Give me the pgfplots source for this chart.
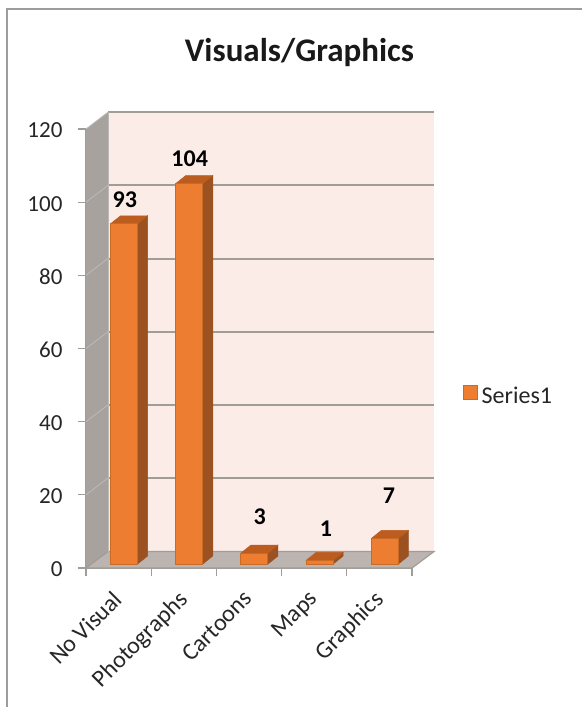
\documentclass[border=0pt]{standalone}
\usepackage{pgfplots}
\pgfplotsset{compat=1.18}
\usepackage{fontspec}
\setmainfont{Carlito}
\definecolor{frameline}{HTML}{9C9C9C}
\definecolor{gridline}{HTML}{A09C98}
\definecolor{sidewall}{HTML}{A8A29E}
\definecolor{floorfill}{HTML}{BCB4B1}
\definecolor{backwall}{HTML}{FBECE8}
\definecolor{barfront}{HTML}{ED7D31}
\definecolor{baredge}{HTML}{C96A26}
\definecolor{bartop}{HTML}{BC5C1E}
\definecolor{barside}{HTML}{9C5120}
\pgfplotstableread{
x   value
0.5 93
1.5 104
2.5 3
3.5 1
4.5 7
}\visuals
\begin{document}
\begin{tikzpicture}[x=1pt,y=1pt]
\useasboundingbox (0,0) rectangle (582,710);
% chart frame, open on the right and at the bottom
\draw[frameline,line width=1.4pt] (7,3) -- (7,701) -- (582,701);
\node[font=\fontsize{33}{35}\selectfont\bfseries,text=black!90] at (299.5,657) {Visuals/Graphics};
\begin{axis}[
  at={(86pt,142pt)},anchor=south west,
  width=326pt,height=439pt,scale only axis,
  xmin=0,xmax=5,ymin=0,ymax=120,
  clip=false,
  axis x line=bottom,axis y line=left,
  axis line style={-,gridline,line width=2pt},
  tick align=outside,
  major tick length=8pt,
  ytick={0,20,...,120},
  y tick style={gridline,line width=1.2pt},
  xtick={0.5,1.5,2.5,3.5,4.5},
  xticklabels={No Visual,Photographs,Cartoons,Maps,Graphics},
  x tick style={draw=none},
  extra x ticks={0,1,2,3,4,5},
  extra x tick labels={},
  extra x tick style={x tick style={draw=gridline,line width=1.2pt}},
  tick label style={font=\fontsize{24}{26}\selectfont,text=black!85},
  x tick label style={rotate=45,anchor=north east,xshift=-10.5pt,yshift=-1.25pt},
  y tick label style={font=\fontsize{23}{25}\selectfont,xshift=-12pt,yshift=-1.5pt},
  /pgf/number format/assume math mode=true,
  legend style={at={(axis cs:5.775,47.3)},anchor=west,draw=none,fill=none,
    inner sep=0pt,nodes={inner sep=0pt},
    font=\fontsize{24}{26}\selectfont,text=black!85},
  barface/.style={forget plot,xshift=5.5pt,yshift=4pt,line width=0.5pt},
]
% walls and floor of the 3-D frame
\addplot[forget plot,draw=none,fill=backwall] coordinates {(0.337,4.5) (5.337,4.5) (5.337,124.6) (0.337,124.6)} -- cycle;
\addplot[forget plot,draw=none,fill=sidewall] coordinates {(0,0) (0.337,4.5) (0.337,124.6) (0,120)} -- cycle;
\addplot[forget plot,draw=gridline,line width=1.2pt,fill=floorfill] coordinates {(0,0) (0.337,4.5) (5.337,4.5) (5,0)} -- cycle;
% gridlines across the side wall and the back wall
\pgfplotsinvokeforeach{20,40,60,80,100,120}{
  \addplot[forget plot,gridline,line width=2pt] coordinates {(0.337,#1+4.6) (5.337,#1+4.6)};
  \addplot[forget plot,gridline!70,line width=0.8pt] coordinates {(0,#1) (0.337,#1+4.6)};
}
\addplot[forget plot,gridline!70,line width=0.8pt] coordinates {(0.337,4.5) (0.337,124.6)};
% side and top faces of each bar
\addplot[barface,fill=barside,draw=barside] coordinates {(0.707,0) (0.707,93) (0.86,95.19) (0.86,2.19)} -- cycle;
\addplot[barface,fill=bartop,draw=bartop] coordinates {(0.293,93) (0.707,93) (0.86,95.19) (0.446,95.19)} -- cycle;
\addplot[barface,fill=barside,draw=barside] coordinates {(1.707,0) (1.707,104) (1.86,106.19) (1.86,2.19)} -- cycle;
\addplot[barface,fill=bartop,draw=bartop] coordinates {(1.293,104) (1.707,104) (1.86,106.19) (1.446,106.19)} -- cycle;
\addplot[barface,fill=barside,draw=barside] coordinates {(2.707,0) (2.707,3) (2.86,5.19) (2.86,2.19)} -- cycle;
\addplot[barface,fill=bartop,draw=bartop] coordinates {(2.293,3) (2.707,3) (2.86,5.19) (2.446,5.19)} -- cycle;
\addplot[barface,fill=barside,draw=barside] coordinates {(3.707,0) (3.707,1) (3.86,3.19) (3.86,2.19)} -- cycle;
\addplot[barface,fill=bartop,draw=bartop] coordinates {(3.293,1) (3.707,1) (3.86,3.19) (3.446,3.19)} -- cycle;
\addplot[barface,fill=barside,draw=barside] coordinates {(4.707,0) (4.707,7) (4.86,9.19) (4.86,2.19)} -- cycle;
\addplot[barface,fill=bartop,draw=bartop] coordinates {(4.293,7) (4.707,7) (4.86,9.19) (4.446,9.19)} -- cycle;
% front faces carry the values
\addplot[ybar,bar width=27pt,xshift=5.5pt,yshift=4pt,fill=barfront,draw=baredge,line width=1pt,
  legend image code/.code={\draw[fill=barfront,draw=baredge,line width=1pt] (0pt,-7pt) rectangle (14pt,7pt);}]
  table[x=x,y=value] {\visuals};
\addlegendentry{\hspace{4pt}Series1}
% value labels
\begin{scope}[every node/.style={font=\fontsize{24}{26}\selectfont\bfseries,text=black}]
\node at (axis cs:0.595,100.7) {93};
\node at (axis cs:1.59,111.8) {104};
\node at (axis cs:2.665,14) {3};
\node at (axis cs:3.68,10.7) {1};
\node at (axis cs:4.645,19.7) {7};
\end{scope}
\end{axis}
\end{tikzpicture}
\end{document}
